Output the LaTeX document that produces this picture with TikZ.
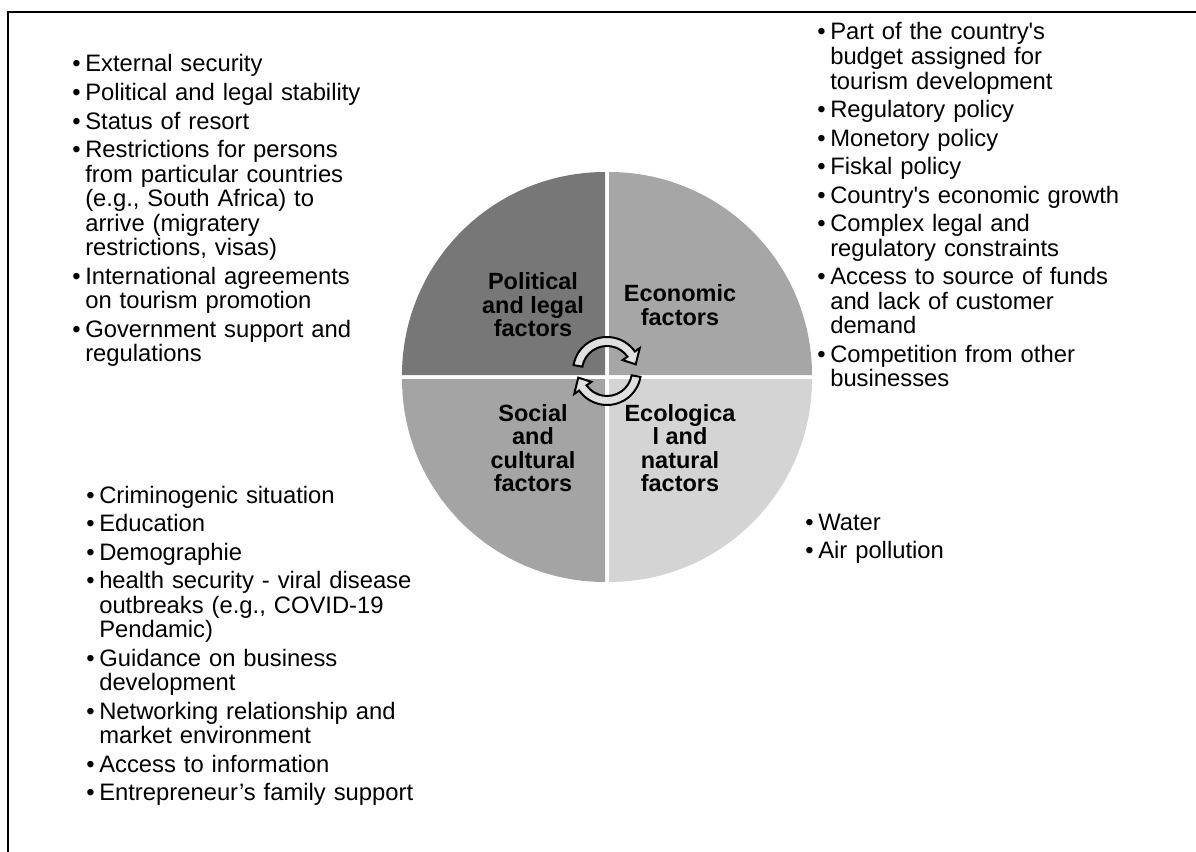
\documentclass[tikz,border=0pt]{standalone}
\usepackage{fontspec}
\setmainfont{Liberation Sans}
\usetikzlibrary{positioning}

\definecolor{polgray}{HTML}{777777}
\definecolor{ecogray}{HTML}{A6A6A6}
\definecolor{socgray}{HTML}{A4A4A4}
\definecolor{natgray}{HTML}{D4D4D4}

\newcommand{\factsetup}{\leftskip=9.75pt\rightskip=0pt plus 1fil\parindent=0pt\parskip=3pt\relax}
\newcommand{\fitem}[1]{\noindent\llap{\makebox[9.75pt][l]{\textbullet}}#1\par}

\begin{document}
\begin{tikzpicture}[x=0.75pt, y=-0.75pt,
    quad label/.style={font={\fontsize{17.6pt}{17.6pt}\bfseries\selectfont}, align=center, inner sep=0pt},
    fact list/.style={anchor=base west, inner sep=0pt, text width=330pt, font={\fontsize{17.85pt}{18.4pt}\selectfont}},
    cyc arrow/.style={draw=black, fill=white!88!black, line width=1.5pt, line join=miter}]
  \useasboundingbox (0,0) rectangle (1196,852);
  \draw[line width=1.5pt] (8,852) -- (8,12) -- (1196,12);

  % four quadrants
  \fill[polgray] (605,375) -- ++(180:203) arc[start angle=180, end angle=270, radius=203] -- cycle;
  \fill[ecogray] (609,375) -- ++(270:203) arc[start angle=270, end angle=360, radius=203] -- cycle;
  \fill[natgray] (609,379) -- ++(0:203) arc[start angle=0, end angle=90, radius=203] -- cycle;
  \fill[socgray] (605,379) -- ++(90:203) arc[start angle=90, end angle=180, radius=203] -- cycle;

  % cycle arrows in the middle
  \begin{scope}[shift={(607,371)}]
    \draw[cyc arrow] (190:34) arc[start angle=190, end angle=325, radius=34] -- (325:40) -- (347:29.5) -- (325:19) -- (325:25) arc[start angle=325, end angle=190, radius=25] -- cycle;
    \draw[cyc arrow] (10:34) arc[start angle=10, end angle=145, radius=34] -- (145:40) -- (167:29.5) -- (145:19) -- (145:25) arc[start angle=145, end angle=10, radius=25] -- cycle;
  \end{scope}

  \node[quad label] (pol) at (533,305) {Political\\and legal\\factors};
  \node[quad label] (eco) at (680,305) {Economic\\factors};
  \node[quad label] (soc) at (533,448) {Social\\and\\cultural\\factors};
  \node[quad label] (nat) at (680,448) {Ecologica\\l and\\natural\\factors};

  % lists of factors
  \node[fact list] (polfacts) at (72,72) {\factsetup
    \fitem{External security}
    \fitem{Political and legal stability}
    \fitem{Status of resort}
    \fitem{Restrictions for persons\newline from particular countries\newline (e.g., South Africa) to\newline arrive (migratery\newline restrictions, visas)}
    \fitem{International agreements\newline on tourism promotion}
    \fitem{Government support and\newline regulations}};
  \node[fact list] (ecofacts) at (817,40) {\factsetup
    \fitem{Part of the country\textquotesingle s\newline budget assigned for\newline tourism development}
    \fitem{Regulatory policy}
    \fitem{Monetory policy}
    \fitem{Fiskal policy}
    \fitem{Country\textquotesingle s economic growth}
    \fitem{Complex legal and\newline regulatory constraints}
    \fitem{Access to source of funds\newline and lack of customer\newline demand}
    \fitem{Competition from other\newline businesses}};
  \node[fact list] (socfacts) at (86,503) {\factsetup
    \fitem{Criminogenic situation}
    \fitem{Education}
    \fitem{Demographie}
    \fitem{health security - viral disease\newline outbreaks (e.g., COVID-19\newline Pendamic)}
    \fitem{Guidance on business\newline development}
    \fitem{Networking relationship and\newline market environment}
    \fitem{Access to information}
    \fitem{Entrepreneur’s family support}};
  \node[fact list] (natfacts) at (805,530) {\factsetup
    \fitem{Water}
    \fitem{Air pollution}};
\end{tikzpicture}
\end{document}
